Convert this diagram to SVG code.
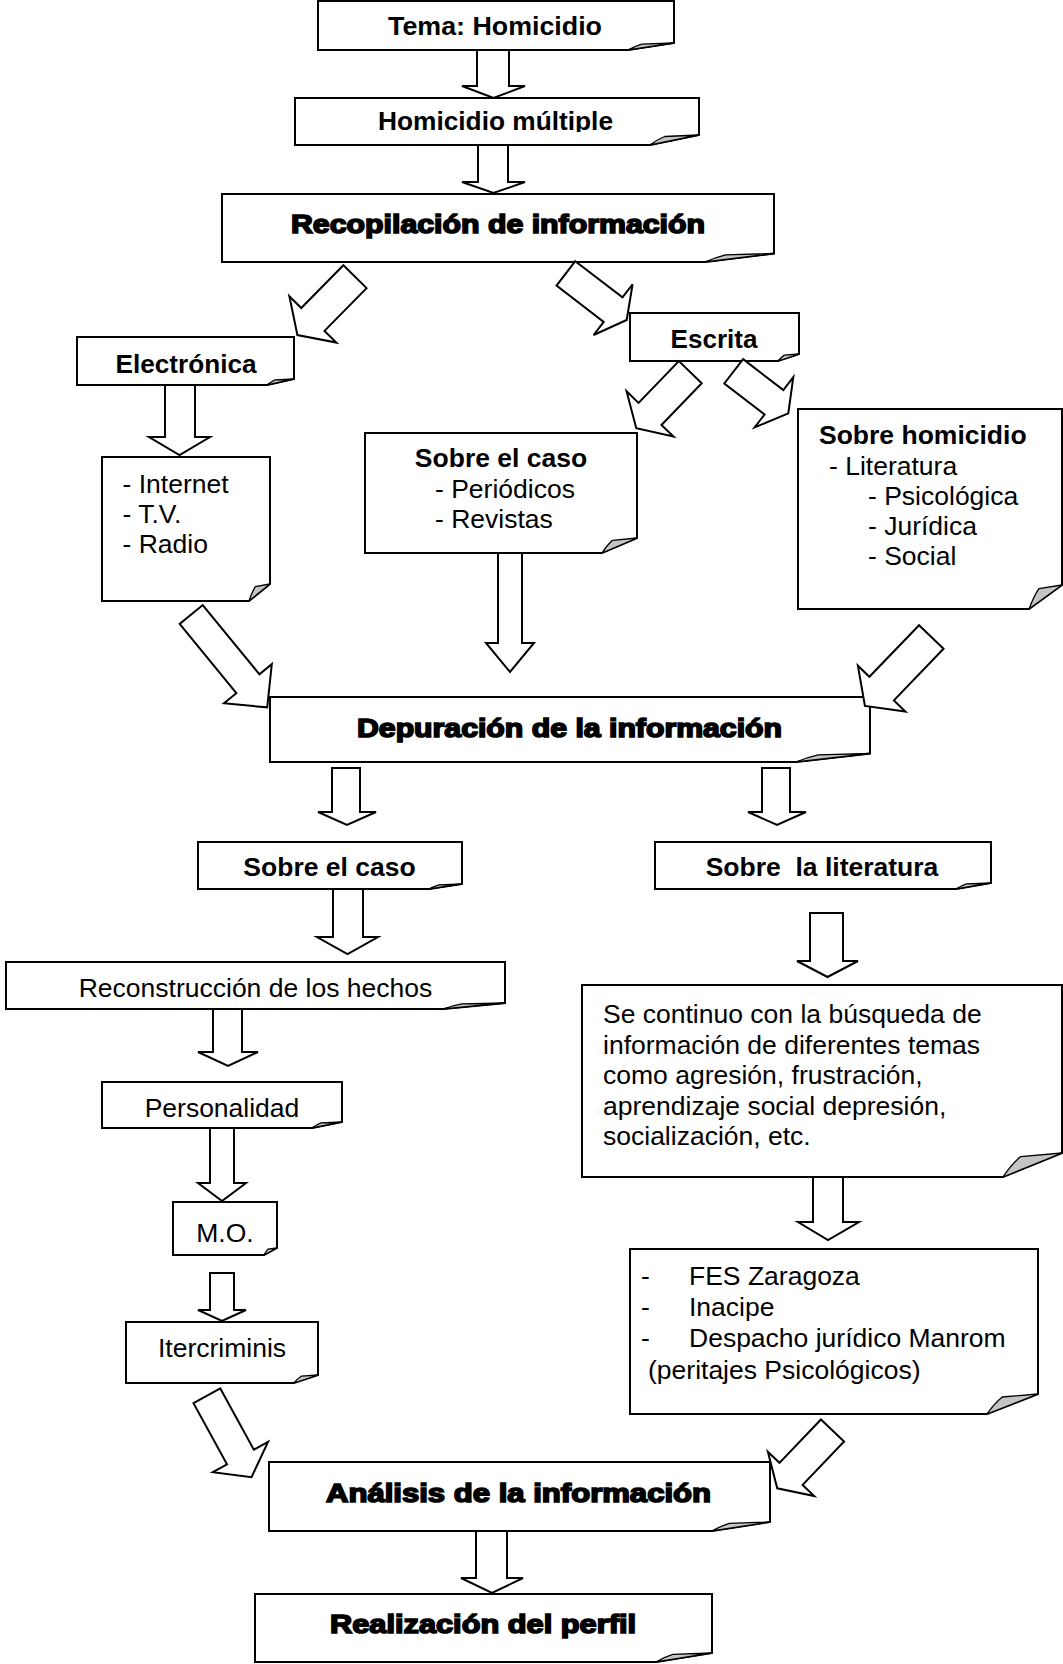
<svg xmlns="http://www.w3.org/2000/svg" width="1063" height="1664" viewBox="0 0 1063 1664">
<style>
.box{fill:#fff;stroke:#000;stroke-width:2;stroke-linejoin:miter}
.fold{fill:#c4c4c4;stroke:#000;stroke-width:1.3;stroke-linejoin:round}
.arr{fill:#fff;stroke:#000;stroke-width:2;stroke-linejoin:miter}
text{font-family:"Liberation Sans",Arial,sans-serif;font-size:26.5px;fill:#000}
.b{font-weight:700}
.h{font-weight:700;font-size:25.5px;stroke:#000;stroke-width:1.6}
.c{text-anchor:middle}
</style>
<defs>
<clipPath id="clipHM"><rect x="295" y="98" width="404" height="34"/></clipPath>
</defs>
<rect width="1063" height="1664" fill="#fff"/>

<g id="n-tema">
<path class="box" d="M318,1 H674 V43 L628,50 H318 Z"/>
<path class="fold" d="M628,50 Q634.9,46.2 641.8,44.1 L674,43 Z"/>
<text class="b c" x="495" y="35" textLength="214" lengthAdjust="spacingAndGlyphs">Tema: Homicidio</text>
</g>
<g id="n-multiple">
<path class="box" d="M295,98 H699 V135 L650,145 H295 Z"/>
<path class="fold" d="M650,145 Q657.4,139.5 664.7,136.5 L699,135 Z"/>
<text class="b c" x="495.5" y="130" textLength="235" lengthAdjust="spacingAndGlyphs" clip-path="url(#clipHM)">Homicidio múltiple</text>
</g>
<g id="n-recopilacion">
<path class="box" d="M222,194 H774 V253.5 L705,262 H222 Z"/>
<path class="fold" d="M705,262 Q715.4,257.3 725.7,254.8 L774,253.5 Z"/>
<text class="h c" x="498" y="233" textLength="414" lengthAdjust="spacingAndGlyphs">Recopilación de información</text>
</g>
<g id="n-electronica">
<path class="box" d="M77,337 H294 V379 L267,385 H77 Z"/>
<path class="fold" d="M267,385 Q271,381.7 275.1,379.9 L294,379 Z"/>
<text class="b c" x="186" y="373" textLength="141" lengthAdjust="spacingAndGlyphs">Electrónica</text>
</g>
<g id="n-escrita">
<path class="box" d="M630,313 H799 V354 L778,361 H630 Z"/>
<path class="fold" d="M778,361 Q781.2,357.2 784.3,355.1 L799,354 Z"/>
<text class="b c" x="714" y="348" textLength="87" lengthAdjust="spacingAndGlyphs">Escrita</text>
</g>
<g id="n-medios">
<path class="box" d="M102,457 H270 V584 L249,601 H102 Z"/>
<path class="fold" d="M249,601 Q252.2,591.7 255.3,586.6 L270,584 Z"/>
<text x="122.5" y="493">- Internet</text>
<text x="122.5" y="523">- T.V.</text>
<text x="122.5" y="553">- Radio</text>
</g>
<g id="n-caso1">
<path class="box" d="M365,433 H637 V538 L602,553 H365 Z"/>
<path class="fold" d="M602,553 Q607.3,544.8 612.5,540.3 L637,538 Z"/>
<text class="b c" x="501" y="467">Sobre el caso</text>
<text x="435" y="498">- Periódicos</text>
<text x="435" y="528">- Revistas</text>
</g>
<g id="n-homicidio">
<path class="box" d="M798,409 H1062 V585 L1029,609 H798 Z"/>
<path class="fold" d="M1029,609 Q1034,595.8 1038.9,588.6 L1062,585 Z"/>
<text class="b" x="819" y="444">Sobre homicidio</text>
<text x="829" y="475">- Literatura</text>
<text x="868" y="505">- Psicológica</text>
<text x="868" y="535">- Jurídica</text>
<text x="868" y="565">- Social</text>
</g>
<g id="n-depuracion">
<path class="box" d="M270,697 H870 V753.5 L796,762 H270 Z"/>
<path class="fold" d="M796,762 Q807.1,757.3 818.2,754.8 L870,753.5 Z"/>
<text class="h c" x="569.5" y="737" textLength="425" lengthAdjust="spacingAndGlyphs">Depuración de la información</text>
</g>
<g id="n-caso2">
<path class="box" d="M198,842 H462 V884 L429,889 H198 Z"/>
<path class="fold" d="M429,889 Q434,886.3 438.9,884.8 L462,884 Z"/>
<text class="b c" x="329.5" y="876">Sobre el caso</text>
</g>
<g id="n-literatura">
<path class="box" d="M655,842 H991 V883 L956,889 H655 Z"/>
<path class="fold" d="M956,889 Q961.3,885.7 966.5,883.9 L991,883 Z"/>
<text class="b c" x="822" y="876" xml:space="preserve">Sobre  la literatura</text>
</g>
<g id="n-reconstruccion">
<path class="box" d="M6,962 H505 V1003 L443,1009 H6 Z"/>
<path class="fold" d="M443,1009 Q452.3,1005.7 461.6,1003.9 L505,1003 Z"/>
<text class="c" x="255.5" y="997">Reconstrucción de los hechos</text>
</g>
<g id="n-personalidad">
<path class="box" d="M102,1082 H342 V1122 L312,1128 H102 Z"/>
<path class="fold" d="M312,1128 Q316.5,1124.7 321,1122.9 L342,1122 Z"/>
<text class="c" x="222" y="1117">Personalidad</text>
</g>
<g id="n-mo">
<path class="box" d="M173,1202 H277 V1248 L264,1255 H173 Z"/>
<path class="fold" d="M264,1255 Q266,1251.2 267.9,1249.1 L277,1248 Z"/>
<text class="c" x="225" y="1242">M.O.</text>
</g>
<g id="n-iter">
<path class="box" d="M126,1322 H318 V1375 L294,1383 H126 Z"/>
<path class="fold" d="M294,1383 Q297.6,1378.6 301.2,1376.2 L318,1375 Z"/>
<text class="c" x="222" y="1357">Itercriminis</text>
</g>
<g id="n-busqueda">
<path class="box" d="M582,985 H1062 V1153 L1003,1177 H582 Z"/>
<path class="fold" d="M1003,1177 Q1011.9,1163.8 1020.7,1156.6 L1062,1153 Z"/>
<text x="603" y="1023">Se continuo con la búsqueda de</text>
<text x="603" y="1053.5">información de diferentes temas</text>
<text x="603" y="1084">como agresión, frustración,</text>
<text x="603" y="1114.5">aprendizaje social depresión,</text>
<text x="603" y="1145">socialización, etc.</text>
</g>
<g id="n-fuentes">
<path class="box" d="M630,1249 H1038 V1394 L987,1414 H630 Z"/>
<path class="fold" d="M987,1414 Q994.7,1403 1002.3,1397 L1038,1394 Z"/>
<text x="641" y="1285">-</text><text x="689" y="1285">FES Zaragoza</text>
<text x="641" y="1316">-</text><text x="689" y="1316">Inacipe</text>
<text x="641" y="1347">-</text><text x="689" y="1347">Despacho jurídico Manrom</text>
<text x="648" y="1379">(peritajes Psicológicos)</text>
</g>
<g id="n-analisis">
<path class="box" d="M269,1462 H770 V1522 L712,1531 H269 Z"/>
<path class="fold" d="M712,1531 Q720.7,1526 729.4,1523.4 L770,1522 Z"/>
<text class="h c" x="518.5" y="1502" textLength="385" lengthAdjust="spacingAndGlyphs">Análisis de la información</text>
</g>
<g id="n-perfil">
<path class="box" d="M255,1594 H712 V1653 L656,1662 H255 Z"/>
<path class="fold" d="M656,1662 Q664.4,1657 672.8,1654.4 L712,1653 Z"/>
<text class="h c" x="483" y="1633" textLength="306" lengthAdjust="spacingAndGlyphs">Realización del perfil</text>
</g>

<g id="connectors">
<polygon class="arr" points="477,50 509,50 509,86 525,86 493.5,98 462,86 477,86"/>
<polygon class="arr" points="478,145 508,145 508,182 525,182 493.5,193 462,182 478,182"/>
<polygon class="arr" points="165,385 195,385 195,437 210,437 179.5,455 149,437 165,437"/>
<polygon class="arr" points="498,553 522,553 522,643 534,643 510,672 486,643 498,643"/>
<polygon class="arr" points="332,768 360,768 360,812 376,812 347,825 318,812 332,812"/>
<polygon class="arr" points="762,768 790,768 790,812 806,812 777,825 748,812 762,812"/>
<polygon class="arr" points="333,889 363,889 363,937 378,937 347.5,954 317,937 333,937"/>
<polygon class="arr" points="213,1009 242,1009 242,1052 258,1052 228,1066 198,1052 213,1052"/>
<polygon class="arr" points="210,1128 234,1128 234,1183 246,1183 222,1201 198,1183 210,1183"/>
<polygon class="arr" points="210,1273 234,1273 234,1310 246,1310 222,1321 198,1310 210,1310"/>
<polygon class="arr" points="810,913 843,913 843,961 858,961 827.5,977 797,961 810,961"/>
<polygon class="arr" points="813,1177 843,1177 843,1222 859,1222 828,1240 798,1222 813,1222"/>
<polygon class="arr" points="476,1531 507,1531 507,1578 523,1578 492,1593 461,1578 476,1578"/>
<path class="arr" transform="translate(355,276.7) rotate(134.6)" d="M0,-16.3 H60 V-33 L82,0 L60,33 V16.3 H0 Z"/>
<path class="arr" transform="translate(565.9,273.4) rotate(37.5)" d="M0,-15.4 H59.5 V-32 L76.6,0 L59.5,32 V15.4 H0 Z"/>
<path class="arr" transform="translate(690.3,372.2) rotate(134)" d="M0,-15.9 H58 V-32.6 L77.8,0 L58,32.6 V15.9 H0 Z"/>
<path class="arr" transform="translate(733.7,371.3) rotate(37.6)" d="M0,-15.4 H50.8 V-31.7 L68.9,0 L50.8,31.7 V15.4 H0 Z"/>
<path class="arr" transform="translate(191.2,614.5) rotate(50.7)" d="M0,-14.9 H89.5 V-30.9 L120,0 L89.5,30.9 V14.9 H0 Z"/>
<path class="arr" transform="translate(931.3,637) rotate(133.9)" d="M0,-17 H71.6 V-33 L95.7,0 L71.6,33 V17 H0 Z"/>
<path class="arr" transform="translate(206.9,1395.8) rotate(61.3)" d="M0,-15.3 H69.8 V-31.5 L92.9,0 L69.8,31.5 V15.3 H0 Z"/>
<path class="arr" transform="translate(832.5,1430.5) rotate(133.7)" d="M0,-16 H60 V-32 L80,0 L60,32 V16 H0 Z"/>
</g>
</svg>
